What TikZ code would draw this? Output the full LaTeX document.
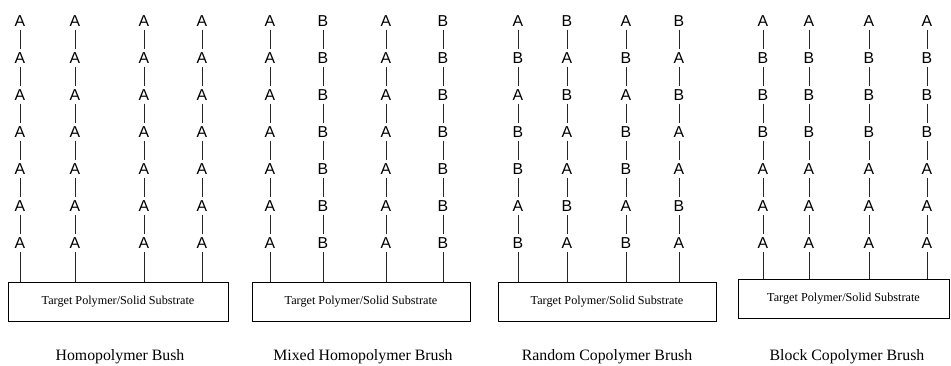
\documentclass[tikz,border=0pt]{standalone}
\usepackage{fontspec}
\setmainfont{Liberation Serif}
\newfontfamily\unitfont{Liberation Sans}

\begin{document}
\begin{tikzpicture}[
  x=0.03cm,
  y=0.03cm,
  unit/.style={font=\unitfont\fontsize{13.5}{13.5}\selectfont, inner sep=0pt, outer sep=2.6pt, text height=9.6pt, text depth=0pt},
  bond/.style={line width=0.7pt, black!85},
  substrate/.style={draw, line width=0.8pt, minimum height=1.17cm, font=\fontsize{10.4}{12}\selectfont},
  caption/.style={font=\fontsize{13.5}{15}\selectfont}
]

\useasboundingbox (0,0) rectangle (951,-366);

% Homopolymer brush
\node[substrate, minimum width=6.6cm] (sub1) at (118,-301.5) {Target Polymer/Solid Substrate};
\foreach \x/\seq in {20/{A,A,A,A,A,A,A}, 75/{A,A,A,A,A,A,A}, 144/{A,A,A,A,A,A,A}, 202/{A,A,A,A,A,A,A}} {
  \foreach \m [count=\r, remember=\r as \q (initially 0)] in \seq {
    \node[unit] (u\x-\r) at (\x,{-21-37*(\r-1)}) {\m};
    \ifnum\q>0 \draw[bond] (u\x-\q) -- (u\x-\r); \fi
  }
  \draw[bond] (u\x-7) -- (u\x-7 |- sub1.north);
}
\node[caption] (cap1) at (120,-357) {Homopolymer Bush};

% Mixed homopolymer brush
\node[substrate, minimum width=6.54cm] (sub2) at (361,-301.5) {Target Polymer/Solid Substrate};
\foreach \x/\seq in {270/{A,A,A,A,A,A,A}, 323/{B,B,B,B,B,B,B}, 386/{A,A,A,A,A,A,A}, 443/{B,B,B,B,B,B,B}} {
  \foreach \m [count=\r, remember=\r as \q (initially 0)] in \seq {
    \node[unit] (u\x-\r) at (\x,{-21-37*(\r-1)}) {\m};
    \ifnum\q>0 \draw[bond] (u\x-\q) -- (u\x-\r); \fi
  }
  \draw[bond] (u\x-7) -- (u\x-7 |- sub2.north);
}
\node[caption] (cap2) at (363,-357) {Mixed Homopolymer Brush};

% Random copolymer brush
\node[substrate, minimum width=6.54cm] (sub3) at (607,-301.5) {Target Polymer/Solid Substrate};
\foreach \x/\seq in {518/{A,B,A,B,B,A,B}, 567/{B,A,B,A,A,B,A}, 626/{A,B,A,B,B,A,B}, 679/{B,A,B,A,A,B,A}} {
  \foreach \m [count=\r, remember=\r as \q (initially 0)] in \seq {
    \node[unit] (u\x-\r) at (\x,{-21-37*(\r-1)}) {\m};
    \ifnum\q>0 \draw[bond] (u\x-\q) -- (u\x-\r); \fi
  }
  \draw[bond] (u\x-7) -- (u\x-7 |- sub3.north);
}
\node[caption] (cap3) at (607,-357) {Random Copolymer Brush};

% Block copolymer brush
\node[substrate, minimum width=6.33cm] (sub4) at (843.5,-298.5) {Target Polymer/Solid Substrate};
\foreach \x/\seq in {763/{A,B,B,B,A,A,A}, 809/{A,B,B,B,A,A,A}, 869/{A,B,B,B,A,A,A}, 927/{A,B,B,B,A,A,A}} {
  \foreach \m [count=\r, remember=\r as \q (initially 0)] in \seq {
    \node[unit] (u\x-\r) at (\x,{-21-37*(\r-1)}) {\m};
    \ifnum\q>0 \draw[bond] (u\x-\q) -- (u\x-\r); \fi
  }
  \draw[bond] (u\x-7) -- (u\x-7 |- sub4.north);
}
\node[caption] (cap4) at (847,-357) {Block Copolymer Brush};

\end{tikzpicture}
\end{document}
